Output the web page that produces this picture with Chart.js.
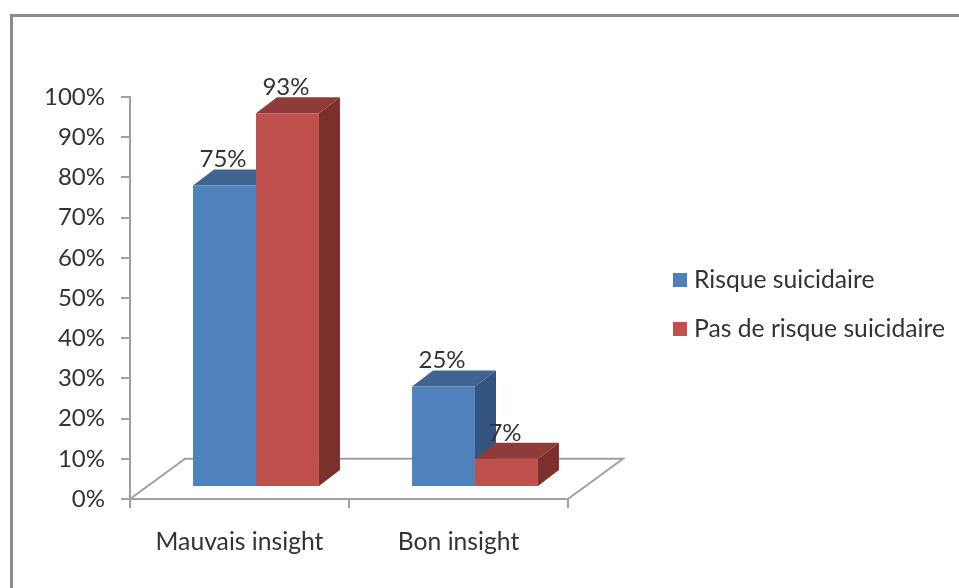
<!DOCTYPE html>
<html lang="fr">
<head>
<meta charset="utf-8">
<title>Insight et risque suicidaire</title>
<script src="https://cdn.jsdelivr.net/npm/chart.js@4/dist/chart.umd.min.js"></script>
<style>
    html, body { margin: 0; padding: 0; background: #fff; overflow: hidden; }
    #wrap { position: relative; width: 959px; height: 588px; }
    #frame { position: absolute; left: 10px; top: 14px; right: 0; bottom: 0; border-top: 3px solid #8c8c8c; border-left: 3px solid #8c8c8c; }
    canvas { position: absolute; left: 0; top: 0; filter: blur(0.4px); }
</style>
</head>
<body>
<div id="wrap">
    <div id="frame"></div>
    <canvas id="chart" width="959" height="588"></canvas>
</div>
<script>
const categories = ['Mauvais insight', 'Bon insight'];
const risque = [75, 25];
const pasDeRisque = [93, 7];
const yTicks = [0, 10, 20, 30, 40, 50, 60, 70, 80, 90, 100];

const FONT = 'Lato';
const TEXT = '#333333';
const AXIS = '#a0a0a0';

// 3D look: the front faces are shifted off the axis plane
const SHIFT_X = 16.5;
const SHIFT_Y = -12;
const DEPTH_X = 21;
const DEPTH_Y = -16;
const FLOOR_X = 55;

const shades = [
    { top: '#3f6490', side: '#345480' },
    { top: '#8f3b39', side: '#7b302e' },
];

const poly = (ctx, pts, fill) => {
    ctx.beginPath();
    pts.forEach((p, i) => (i ? ctx.lineTo(p[0], p[1]) : ctx.moveTo(p[0], p[1])));
    ctx.closePath();
    ctx.fillStyle = fill;
    ctx.fill();
};

const fake3d = {
    id: 'fake3d',
    beforeDatasetsDraw(chart) {
        const { ctx, scales: { x, y } } = chart;
        const back = y.getPixelForValue(10);
        const front = y.getPixelForValue(0);

        // floor
        ctx.save();
        ctx.strokeStyle = AXIS;
        ctx.lineWidth = 2;
        ctx.beginPath();
        ctx.moveTo(x.left, front);
        ctx.lineTo(x.left + FLOOR_X, back);
        ctx.lineTo(x.right + FLOOR_X, back);
        ctx.lineTo(x.right, front);
        ctx.stroke();
        ctx.restore();

        // bars get drawn by the library, just moved off the axis
        ctx.save();
        ctx.translate(SHIFT_X, SHIFT_Y);

        // top and side faces go under the front faces
        chart.data.datasets.forEach((ds, d) => {
            chart.getDatasetMeta(d).data.forEach((bar) => {
                const l = bar.x - bar.width / 2;
                const r = bar.x + bar.width / 2;
                poly(ctx, [[l, bar.y], [l + DEPTH_X, bar.y + DEPTH_Y], [r + DEPTH_X, bar.y + DEPTH_Y], [r, bar.y]], shades[d].top);
                poly(ctx, [[r, bar.y], [r + DEPTH_X, bar.y + DEPTH_Y], [r + DEPTH_X, bar.base + DEPTH_Y], [r, bar.base]], shades[d].side);
            });
        });
    },
    afterDatasetsDraw(chart) {
        const { ctx } = chart;
        ctx.restore();

        // value labels come after all faces
        ctx.save();
        ctx.font = `24px ${FONT}`;
        ctx.fillStyle = TEXT;
        ctx.textAlign = 'center';
        ctx.textBaseline = 'middle';
        chart.data.datasets.forEach((ds, d) => {
            chart.getDatasetMeta(d).data.forEach((bar, i) => {
                ctx.fillText(ds.data[i] + '%', bar.x + SHIFT_X - 1.5, bar.y + SHIFT_Y - 26);
            });
        });
        ctx.restore();
    },
    afterDraw(chart) {
        // legend sits far from the plot, so it is placed by hand
        const { ctx } = chart;
        const rows = [280, 329];
        ctx.save();
        ctx.font = `24.7px ${FONT}`;
        ctx.textBaseline = 'middle';
        ctx.textAlign = 'left';
        chart.data.datasets.forEach((ds, d) => {
            ctx.fillStyle = ds.backgroundColor;
            ctx.fillRect(673, rows[d] - 7, 14, 14);
            ctx.fillStyle = TEXT;
            ctx.fillText(ds.label, 694, rows[d]);
        });
        ctx.restore();
    },
};

new Chart(document.getElementById('chart'), {
    type: 'bar',
    data: {
        labels: categories,
        datasets: [
            { label: 'Risque suicidaire', data: risque, backgroundColor: '#4f81bd' },
            { label: 'Pas de risque suicidaire', data: pasDeRisque, backgroundColor: '#c0504d' },
        ],
    },
    plugins: [fake3d],
    options: {
        responsive: false,
        animation: false,
        layout: { padding: { top: 97, right: 391, left: 0, bottom: 0 } },
        plugins: { legend: { display: false }, tooltip: { enabled: false } },
        datasets: { bar: { barPercentage: 1, categoryPercentage: 0.575 } },
        scales: {
            x: {
                afterFit: (s) => { s.height = 89; },
                grid: { drawOnChartArea: false, color: AXIS, lineWidth: 2, tickLength: 9 },
                border: { color: AXIS, width: 2 },
                ticks: { color: TEXT, font: { family: FONT, size: 24.7 }, padding: 19, maxRotation: 0 },
            },
            y: {
                min: 0,
                max: 100,
                afterFit: (s) => { s.width = 130; },
                afterBuildTicks: (s) => { s.ticks = yTicks.map((v) => ({ value: v })); },
                grid: { drawOnChartArea: false, color: AXIS, lineWidth: 2, tickLength: 9 },
                border: { color: AXIS, width: 2 },
                ticks: { color: TEXT, font: { family: FONT, size: 24 }, padding: 16, callback: (v) => v + '%' },
            },
        },
    },
});
</script>
</body>
</html>
